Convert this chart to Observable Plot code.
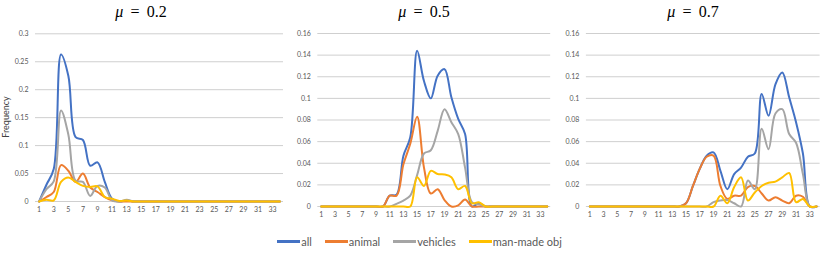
<!DOCTYPE html>
<html><head><meta charset="utf-8">
<script src="https://cdn.jsdelivr.net/npm/d3@7"></script>
<script src="https://cdn.jsdelivr.net/npm/@observablehq/plot@0.6"></script>
<style>
body{margin:0;background:#fff;}
#root{position:relative;width:831px;height:256px;overflow:hidden;font-family:Lato,sans-serif;}
.panel{position:absolute;top:0;}
.title{position:absolute;top:3px;width:200px;text-align:center;font-family:"Liberation Serif",serif;font-size:16px;color:#000;}
.ylab{position:absolute;left:-19px;top:111px;width:50px;height:12px;line-height:12px;text-align:center;transform:rotate(-90deg);font-size:9px;color:#404040;}
#legend{position:absolute;top:235px;left:4px;width:831px;display:flex;justify-content:center;font-size:11px;color:#595959;}
.item{display:flex;align-items:center;margin:0 6.5px;}
.sw{display:inline-block;width:23px;height:2.5px;margin-right:1px;}
</style></head>
<body><div id="root"></div>
<script>
const categories = [1,2,3,4,5,6,7,8,9,10,11,12,13,14,15,16,17,18,19,20,21,22,23,24,25,26,27,28,29,30,31,32,33,34];
const xTicks = [1,3,5,7,9,11,13,15,17,19,21,23,25,27,29,31,33];
const seriesNames = ["all","animal","vehicles","man-made obj"];
const seriesColors = ["#4472C4","#ED7D31","#A5A5A5","#FFC000"];
const titles = ["0.2","0.5","0.7"];
const yTicks02 = [0,0.05,0.1,0.15,0.2,0.25,0.3];
const yTicks05 = [0,0.02,0.04,0.06,0.08,0.1,0.12,0.14,0.16];

// mu = 0.2
const all02      = [0,0.03,0.058,0.263,0.225,0.115,0.11,0.064,0.07,0.035,0.005,0,0.002,0,0,0,0,0,0,0,0,0,0,0,0,0,0,0,0,0,0,0,0,0];
const animal02   = [0,0.008,0.017,0.065,0.055,0.035,0.05,0.025,0.017,0.008,0.002,0,0,0,0,0,0,0,0,0,0,0,0,0,0,0,0,0,0,0,0,0,0,0];
const vehicles02 = [0,0.022,0.036,0.163,0.12,0.037,0.035,0.01,0.028,0.025,0.002,0,0.003,0,0,0,0,0,0,0,0,0,0,0,0,0,0,0,0,0,0,0,0,0];
const manmade02  = [0,0.003,0.002,0.035,0.043,0.035,0.028,0.026,0.027,0.008,0.005,0.001,0.002,0,0,0,0,0,0,0,0,0,0,0,0,0,0,0,0,0,0,0,0,0];
// mu = 0.5
const all05      = [0,0,0,0,0,0,0,0,0,0,0.01,0.011,0.047,0.064,0.144,0.116,0.1,0.121,0.127,0.101,0.081,0.067,0,0.003,0,0,0,0,0,0,0,0,0,0];
const animal05   = [0,0,0,0,0,0,0,0,0,0,0.01,0.01,0.039,0.058,0.083,0.036,0.012,0.016,0.006,0,0.001,0.0065,0,0,0,0,0,0,0,0,0,0,0,0];
const vehicles05 = [0,0,0,0,0,0,0,0,0,0,0,0.0025,0.0055,0.01,0.029,0.049,0.052,0.07,0.09,0.078,0.067,0.036,0.004,0.002,0,0,0,0,0,0,0,0,0,0];
const manmade05  = [0,0,0,0,0,0,0,0,0,0,0,0,0,0,0.027,0.019,0.033,0.03,0.0296,0.027,0.016,0.019,0.003,0.004,0,0,0,0,0,0,0,0,0,0];
// mu = 0.7
const all07      = [0,0,0,0,0,0,0,0,0,0,0,0,0,0,0.003,0.019,0.035,0.047,0.05,0.033,0.016,0.03,0.036,0.046,0.049,0.104,0.084,0.113,0.124,0.101,0.078,0.049,0,0];
const animal07   = [0,0,0,0,0,0,0,0,0,0,0,0,0,0,0.003,0.019,0.035,0.046,0.047,0.019,0.007,0.01,0.01,0.018,0.019,0.012,0.0055,0.0086,0.0055,0.003,0.01,0.009,0,0];
const vehicles07 = [0,0,0,0,0,0,0,0,0,0,0,0,0,0,0,0,0,0,0.004,0.0055,0.006,0.003,0,0.024,0.016,0.072,0.053,0.086,0.09,0.067,0.059,0.03,0,0];
const manmade07  = [0,0,0,0,0,0,0,0,0,0,0,0,0,0,0,0,0,0,0,0.01,0.003,0.018,0.027,0.0055,0.013,0.019,0.022,0.023,0.027,0.031,0.004,0.007,0,0];

const panels = [
  {left:0,   width:290, ml:35,   mr:7,    mt:33.3, mb:24, yMax:0.3,  yTicks:yTicks02, series:[all02,animal02,vehicles02,manmade02], titleCx:141},
  {left:280, width:275, ml:37.3, mr:4.8,  mt:33,   mb:19, yMax:0.16, yTicks:yTicks05, series:[all05,animal05,vehicles05,manmade05], titleCx:424},
  {left:550, width:281, ml:35.9, mr:11.4, mt:33,   mb:19, yMax:0.16, yTicks:yTicks05, series:[all07,animal07,vehicles07,manmade07], titleCx:693}
];

const root = document.getElementById("root");
const fmt = d => String(Math.round(d*100)/100);

panels.forEach((p, pi) => {
  const data = [];
  p.series.forEach((vals, si) => {
    categories.forEach((k, i) => data.push({k, v: vals[i], s: seriesNames[si]}));
  });
  const chart = Plot.plot({
    width: p.width, height: 225,
    marginTop: p.mt, marginBottom: p.mb, marginLeft: p.ml, marginRight: p.mr,
    style: {fontFamily: "Lato, sans-serif", background: "transparent", overflow: "visible"},
    x: {domain: [0.5, 34.5]},
    y: {domain: [0, p.yMax]},
    color: {domain: seriesNames, range: seriesColors},
    marks: [
      Plot.ruleY(p.yTicks, {stroke: "#cfcfcf", strokeWidth: 1}),
      Plot.axisY(p.yTicks, {tickSize: 0, tickPadding: 7, label: null, fontSize: 7, fill: "#595959", tickFormat: fmt}),
      Plot.axisX(xTicks, {tickSize: 0, tickPadding: 6, label: null, fontSize: 7, fill: "#595959"}),
      Plot.line(data, {x: "k", y: "v", z: "s", stroke: "s", strokeWidth: 2, curve: "catmull-rom"})
    ]
  });
  const div = document.createElement("div");
  div.className = "panel";
  div.style.left = p.left + "px";
  div.appendChild(chart);
  root.appendChild(div);
  const t = document.createElement("div");
  t.className = "title";
  t.style.left = (p.titleCx - 100) + "px";
  t.innerHTML = "<i>μ</i>&thinsp; = &thinsp;" + titles[pi];
  root.appendChild(t);
});

const yl = document.createElement("div");
yl.className = "ylab";
yl.textContent = "Frequency";
root.appendChild(yl);

const lg = document.createElement("div");
lg.id = "legend";
seriesNames.forEach((n, i) => {
  const it = document.createElement("span");
  it.className = "item";
  it.innerHTML = `<span class="sw" style="background:${seriesColors[i]}"></span>${n}`;
  lg.appendChild(it);
});
root.appendChild(lg);
</script>
</body></html>
